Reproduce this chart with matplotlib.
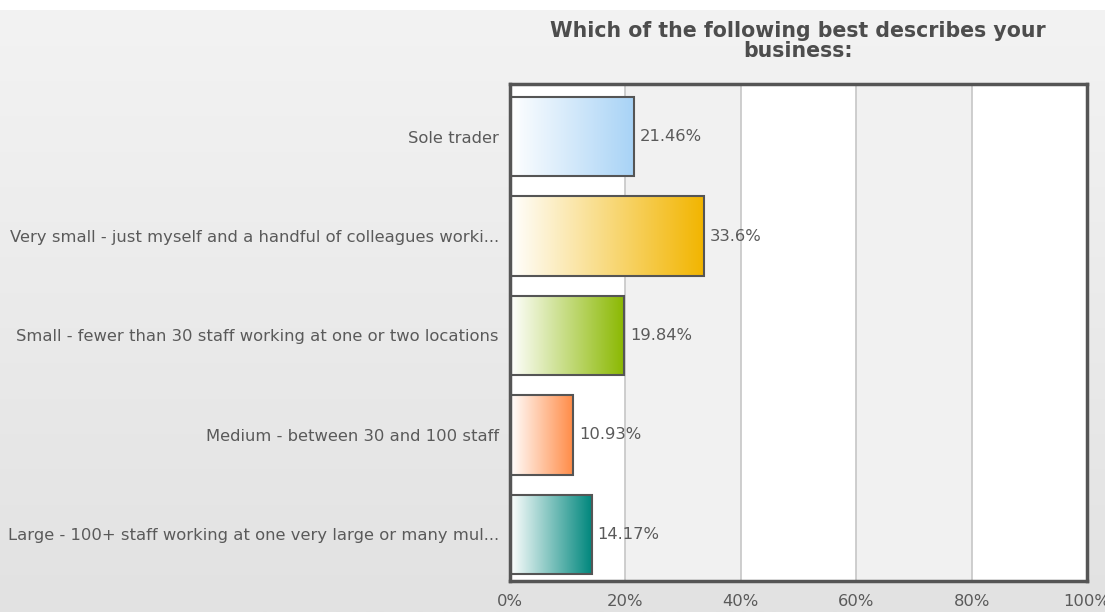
import numpy as np
import matplotlib
matplotlib.use("Agg")
import matplotlib.pyplot as plt
from matplotlib.colors import LinearSegmentedColormap
from matplotlib.patches import Rectangle

categories = [
    "Sole trader",
    "Very small - just myself and a handful of colleagues worki...",
    "Small - fewer than 30 staff working at one or two locations",
    "Medium - between 30 and 100 staff",
    "Large - 100+ staff working at one very large or many mul...",
]
values = [21.46, 33.6, 19.84, 10.93, 14.17]
value_labels = ["21.46%", "33.6%", "19.84%", "10.93%", "14.17%"]
bar_colors = ["#a8d3f6", "#f2b500", "#8ab800", "#ff8a45", "#00877d"]
tick_values = [0, 20, 40, 60, 80, 100]
tick_labels = ["0%", "20%", "40%", "60%", "80%", "100%"]
title = "Which of the following best describes your\nbusiness:"

plt.rcParams["font.family"] = ["DejaVu Sans"]
text_color = "#5a5a5a"
fs = 11.8

fig = plt.figure(figsize=(11.05, 6.12), dpi=100)

# page background: thin white strip on top, then a soft vertical grey gradient
bg = fig.add_axes([0, 0, 1, 1], zorder=-10)
bg.set_axis_off()
grad = np.linspace(0, 1, 256).reshape(-1, 1)
bg_cmap = LinearSegmentedColormap.from_list("bg", ["#f3f3f3", "#e2e2e2"])
bg.imshow(grad, aspect="auto", cmap=bg_cmap, extent=[0, 1, 0, 0.984], origin="upper")
bg.add_patch(Rectangle((0, 0.984), 1, 0.016, color="white", lw=0))
bg.set_xlim(0, 1)
bg.set_ylim(0, 1)

ax = fig.add_axes([510 / 1105, 1 - 581 / 612, 577 / 1105, 497 / 612])
n = len(categories)

# alternating vertical bands between the grid lines
for i, (a, b) in enumerate(zip(tick_values[:-1], tick_values[1:])):
    ax.axvspan(a, b, color="white" if i % 2 == 0 else "#f1f1f1", lw=0, zorder=0)
for t in tick_values[1:-1]:
    ax.axvline(t, color="#c6c6c6", lw=1.2, zorder=1)

bar_h = 0.8
for i, (v, c, lab) in enumerate(zip(values, bar_colors, value_labels)):
    cmap = LinearSegmentedColormap.from_list(f"bar{i}", ["#ffffff", c])
    ax.imshow(np.linspace(0, 1, 256).reshape(1, -1), cmap=cmap, aspect="auto",
              extent=[0, v, i + 0.03 + bar_h / 2, i + 0.03 - bar_h / 2], zorder=2,
              interpolation="bilinear")
    ax.add_patch(Rectangle((0, i + 0.03 - bar_h / 2), v, bar_h, fill=False,
                           edgecolor="#555555", lw=1.5, zorder=3))
    ax.text(v + 1.0, i + 0.03, lab, va="center", ha="left", fontsize=fs,
            color=text_color, zorder=4)

ax.set_xlim(0, 100)
ax.set_ylim(n - 0.5, -0.5)
ax.set_yticks([i + 0.03 for i in range(n)])
ax.set_yticklabels(categories, fontsize=fs, color=text_color)
ax.set_xticks(tick_values)
ax.set_xticklabels(tick_labels, fontsize=fs, color=text_color)
ax.tick_params(axis="both", length=0)
ax.tick_params(axis="y", pad=8)
ax.tick_params(axis="x", pad=9)
for s in ax.spines.values():
    s.set_color("#555555")
    s.set_linewidth(2.5)
    s.set_zorder(5)

fig.text(798 / 1105, 1 - 41 / 612, title, ha="center", va="center",
         fontsize=14.8, fontweight="bold", color="#4d4d4d", linespacing=1.05)

fig.savefig("out.png", dpi=100)
